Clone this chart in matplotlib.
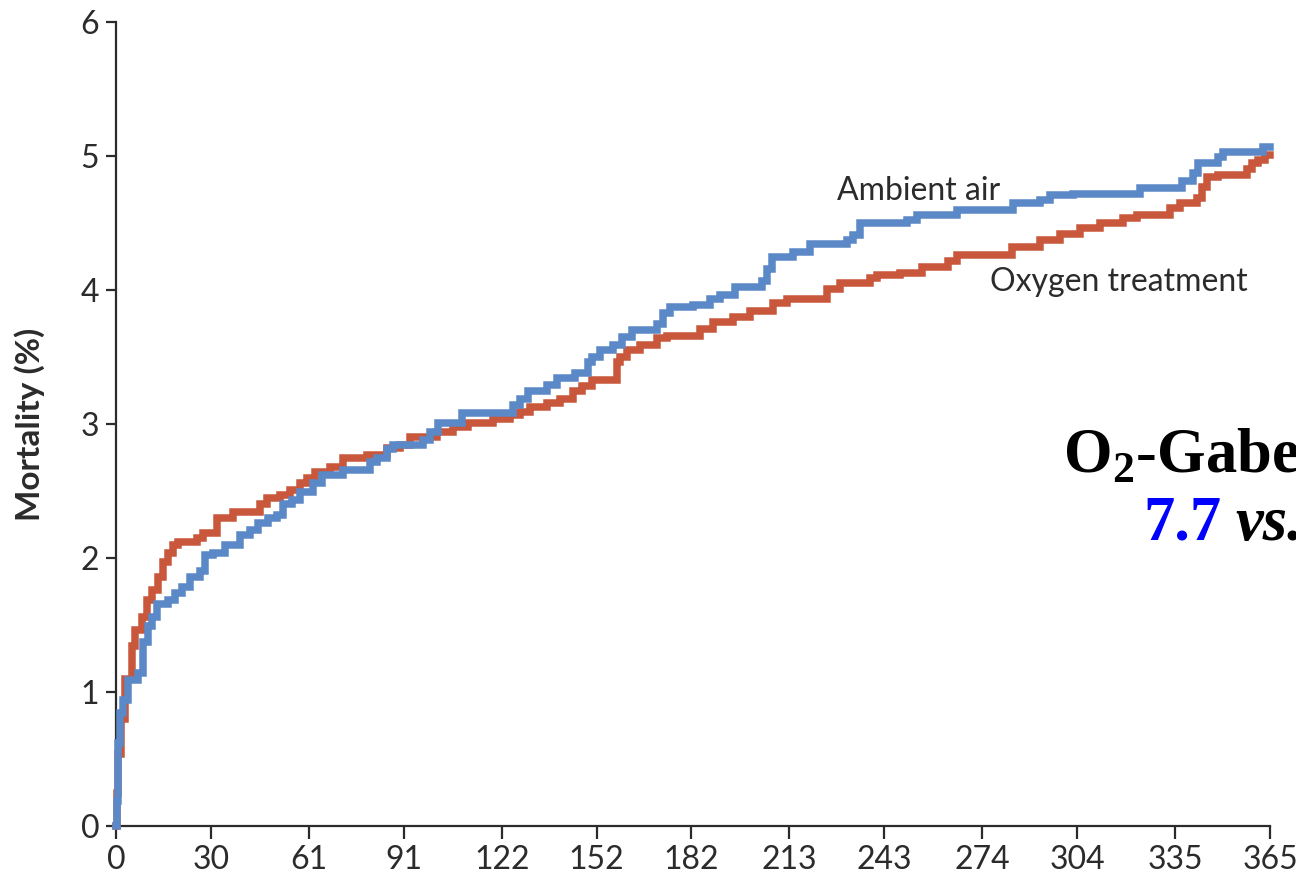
import matplotlib
matplotlib.use('Agg')
import matplotlib.pyplot as plt

# cumulative mortality (%) over days since randomisation, step curves
air_days = [0, 0.3, 0.6, 1.3, 2.2, 3.8, 7.0, 8.5, 10.1, 11.4, 13.0, 16.4, 18.7,
            20.9, 23.4, 26.6, 28.2, 30.7, 34.5, 39.2, 42.4, 44.9, 48.1, 50.9,
            52.8, 55.7, 58.2, 62.3, 65.1, 71.8, 80.3, 82.5, 85.7, 87.6, 97.1,
            99.3, 101.8, 109.4, 125.6, 127.8, 130.3, 136.3, 139.5, 145.2, 149.3,
            150.5, 153.1, 157.2, 160.0, 163.2, 171.1, 173.0, 175.2, 182.5,
            187.9, 191.0, 195.8, 204.3, 205.9, 207.5, 214.1, 219.5, 231.2,
            233.1, 235.3, 250.2, 253.3, 266.0, 283.7, 292.2, 295.4, 302.7,
            323.8, 337.1, 340.6, 342.2, 348.5, 350.1, 362.7, 365]
air_mort = [0, 0.19, 0.62, 0.84, 0.94, 1.09, 1.14, 1.37, 1.49, 1.56, 1.66, 1.69,
            1.74, 1.78, 1.86, 1.90, 2.02, 2.04, 2.10, 2.17, 2.21, 2.26, 2.30,
            2.32, 2.40, 2.43, 2.49, 2.56, 2.62, 2.66, 2.72, 2.75, 2.81, 2.84,
            2.88, 2.94, 3.01, 3.08, 3.14, 3.19, 3.25, 3.29, 3.34, 3.38, 3.46,
            3.50, 3.55, 3.59, 3.65, 3.70, 3.75, 3.83, 3.87, 3.89, 3.93, 3.96,
            4.02, 4.07, 4.16, 4.25, 4.28, 4.34, 4.37, 4.41, 4.50, 4.52, 4.56,
            4.60, 4.65, 4.67, 4.71, 4.72, 4.76, 4.81, 4.87, 4.95, 4.99, 5.03,
            5.07, 5.07]

oxy_days = [0, 0.3, 0.6, 1.6, 2.8, 5.1, 6.0, 8.2, 9.8, 11.4, 13.3, 14.9, 16.4,
            18.0, 19.6, 25.6, 27.5, 31.9, 37.0, 45.5, 47.8, 51.9, 55.0, 58.2,
            60.4, 62.9, 67.7, 71.8, 79.4, 85.7, 89.8, 93.0, 101.5, 106.6, 111.3,
            119.2, 124.6, 127.8, 130.9, 136.3, 140.4, 144.5, 147.4, 150.5,
            158.4, 159.4, 161.6, 165.7, 171.1, 174.3, 184.7, 188.8, 195.1,
            200.5, 207.8, 212.2, 224.9, 228.9, 238.5, 240.7, 247.9, 254.9,
            263.1, 266.0, 283.4, 292.2, 298.5, 304.9, 311.2, 318.5, 322.9,
            333.3, 336.5, 341.9, 343.5, 345.1, 348.5, 357.7, 359.3, 361.2,
            363.4, 365]
oxy_mort = [0, 0.25, 0.54, 0.80, 1.10, 1.34, 1.46, 1.56, 1.69, 1.76, 1.86, 1.97,
            2.04, 2.10, 2.12, 2.15, 2.19, 2.30, 2.34, 2.40, 2.45, 2.47, 2.51,
            2.56, 2.60, 2.64, 2.68, 2.75, 2.77, 2.82, 2.84, 2.90, 2.94, 2.98,
            3.01, 3.04, 3.07, 3.09, 3.13, 3.16, 3.19, 3.25, 3.28, 3.33, 3.46,
            3.50, 3.55, 3.59, 3.64, 3.66, 3.71, 3.76, 3.80, 3.84, 3.90, 3.93,
            4.01, 4.05, 4.09, 4.11, 4.13, 4.17, 4.22, 4.26, 4.32, 4.37, 4.42,
            4.46, 4.50, 4.54, 4.56, 4.61, 4.65, 4.69, 4.77, 4.84, 4.86, 4.90,
            4.95, 4.97, 5.01, 5.01]

x_ticks = [0, 30, 61, 91, 122, 152, 182, 213, 243, 274, 304, 335, 365]
y_ticks = [0, 1, 2, 3, 4, 5, 6]

plt.rcParams['font.family'] = ['Lato', 'DejaVu Sans']
plt.rcParams['mathtext.fontset'] = 'custom'
plt.rcParams['mathtext.rm'] = 'Liberation Serif:bold'
plt.rcParams['mathtext.bf'] = 'Liberation Serif:bold'

ink = '#2b2b2b'
blue = '#5b88c6'
red = '#c9573b'

fig = plt.figure(figsize=(12.96, 8.85), dpi=100)
ax = fig.add_axes([116 / 1296, 59 / 885, 1154 / 1296, 804 / 885])

ax.plot(oxy_days, oxy_mort, drawstyle='steps-post', color=red, lw=5.4,
        solid_joinstyle='miter', clip_on=False, zorder=3)
ax.plot(air_days, air_mort, drawstyle='steps-post', color=blue, lw=5.4,
        solid_joinstyle='miter', clip_on=False, zorder=4)

ax.set_xlim(0, 365)
ax.set_ylim(0, 6)
ax.set_xticks(x_ticks)
ax.set_yticks(y_ticks)
for side in ['top', 'right']:
    ax.spines[side].set_visible(False)
for side in ['left', 'bottom']:
    ax.spines[side].set_linewidth(1.6)
    ax.spines[side].set_color(ink)
ax.tick_params(axis='x', length=9, width=1.6, color=ink, labelcolor=ink,
               labelsize=23, pad=5)
ax.tick_params(axis='y', length=7, width=1.6, color=ink, labelcolor=ink,
               labelsize=23, pad=5)
ax.set_ylabel('Mortality (%)', fontsize=24, fontweight='bold', color=ink,
              labelpad=26)

ax.text(0.625, 0.79, 'Ambient air', transform=ax.transAxes, fontsize=23,
        color=ink, ha='left', va='center')
ax.text(0.757, 0.676, 'Oxygen treatment', transform=ax.transAxes, fontsize=23,
        color=ink, ha='left', va='center')

# annotation on the right margin, runs past the edge of the figure
fig.text(1063 / 1296, 1 - 458 / 885, r'O$_2$-Gabe', fontsize=45,
         fontweight='bold', family='Liberation Serif', color='black',
         ha='left', va='center')
fig.text(1143 / 1296, 1 - 525 / 885, '7.7', fontsize=45, fontweight='bold',
         family='Liberation Serif', color='#0000ff', ha='left', va='center')
fig.text(1235 / 1296, 1 - 525 / 885, 'vs.', fontsize=45, fontweight='bold',
         style='italic', family='Liberation Serif', color='black',
         ha='left', va='center')

fig.savefig('out.png', dpi=100)
